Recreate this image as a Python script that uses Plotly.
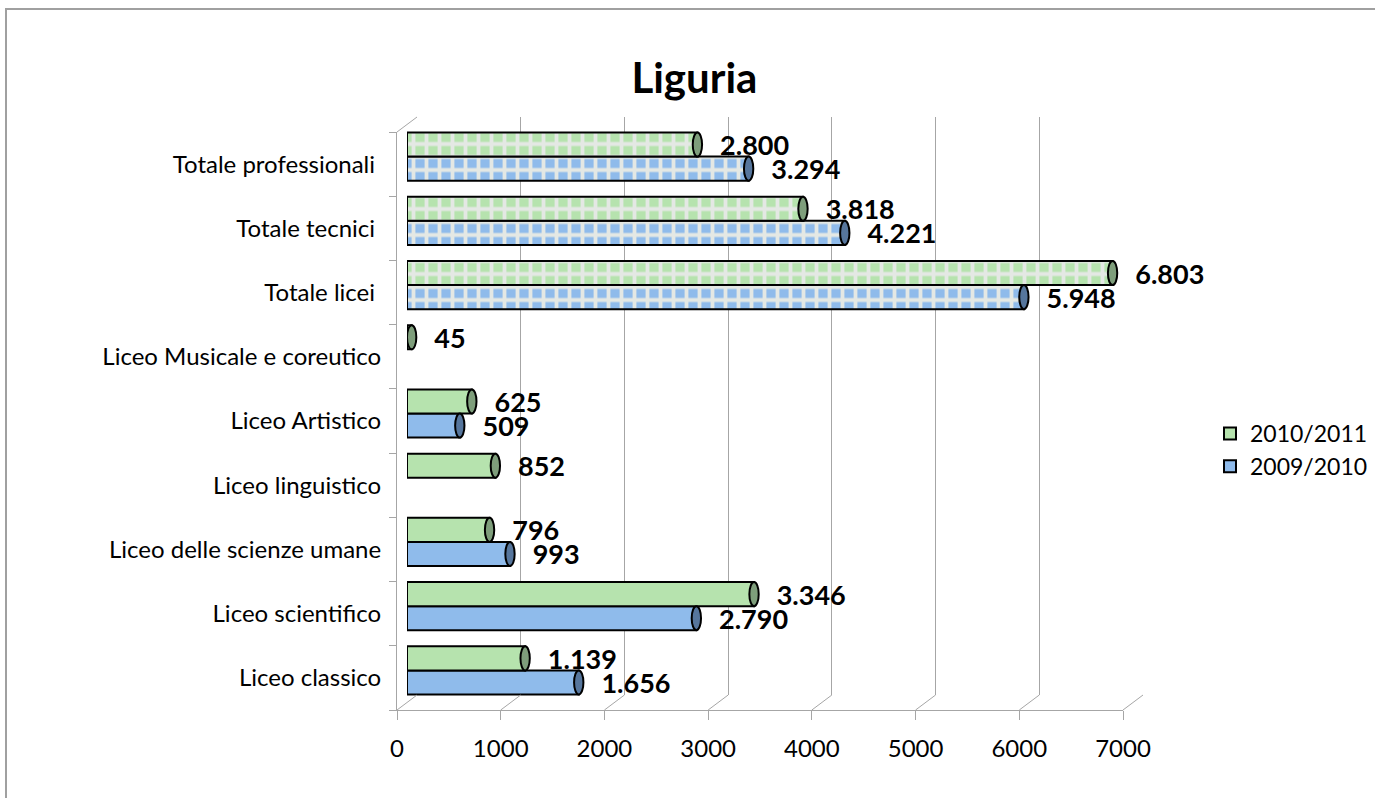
import plotly.graph_objects as go

categories = ["Liceo classico", "Liceo scientifico", "Liceo delle scienze umane",
              "Liceo linguistico", "Liceo Artistico", "Liceo Musicale e coreutico",
              "Totale licei ", "Totale tecnici ", "Totale professionali "]
s2010 = [1139, 3346, 796, 852, 625, 45, 6803, 3818, 2800]
s2009 = [1656, 2790, 993, None, 509, None, 5948, 4221, 3294]
is_total = [False, False, False, False, False, False, True, True, True]
x_ticks = [0, 1000, 2000, 3000, 4000, 5000, 6000, 7000]

FONT = "Lato"
W, H = 747, 593
L_M, T_M, B_M = 397, 117, 88
R_M = 1375 - L_M - W
DX, DY = 20, 15
FRONT_W = 726
FRONT_H = 578

def fmt(v):
    if v is None:
        return ""
    return "\u00a0\u00a0\u00a0" + f"{v:,}".replace(",", ".")

xdom_f = [0, FRONT_W / W]
ydom_f = [0, FRONT_H / H]
xdom_b = [DX / W, (DX + FRONT_W) / W]
ydom_b = [DY / H, 1]
xdom_m = [DX / 2 / W, (DX / 2 + FRONT_W) / W]
ydom_m = [DY / 2 / H, (DY / 2 + FRONT_H) / H]

green = "#b6e3ae"
blue = "#8fbbeb"
green_cap = "#7e9e7b"
blue_cap = "#56769d"

def pattern(base):
    return dict(shape=["+" if t else "" for t in is_total],
                fillmode="replace", size=13, solidity=0.5,
                fgcolor="#e4e8e4", bgcolor=base)

fig = go.Figure()
# dummy traces to register front and back subplots
fig.add_trace(go.Scatter(x=s2010, y=categories, mode="markers", marker=dict(opacity=0),
                         showlegend=False, hoverinfo="skip", xaxis="x", yaxis="y"))
fig.add_trace(go.Scatter(x=s2010, y=categories, mode="markers", marker=dict(opacity=0),
                         showlegend=False, hoverinfo="skip", xaxis="x2", yaxis="y2"))

label_font = dict(family=FONT, size=27, color="black", weight="bold")
fig.add_trace(go.Bar(name="2009/2010", y=categories, x=s2009, orientation="h",
                     marker=dict(color=blue, line=dict(color="black", width=2),
                                 pattern=pattern(blue)),
                     text=[fmt(v) for v in s2009], textposition="outside",
                     textfont=label_font, constraintext="none", cliponaxis=False,
                     xaxis="x3", yaxis="y3", legendgroup="a", legendrank=2))
fig.add_trace(go.Bar(name="2010/2011", y=categories, x=s2010, orientation="h",
                     marker=dict(color=green, line=dict(color="black", width=2),
                                 pattern=pattern(green)),
                     text=[fmt(v) for v in s2010], textposition="outside",
                     textfont=label_font, constraintext="none", cliponaxis=False,
                     xaxis="x3", yaxis="y3", legendgroup="b", legendrank=1))

shapes = []
grid_col = "#a6a6a6"
# floor slanted lines
for v in x_ticks:
    xf = xdom_f[0] + v / 7000 * (xdom_f[1] - xdom_f[0])
    xb = xdom_b[0] + v / 7000 * (xdom_b[1] - xdom_b[0])
    shapes.append(dict(type="line", xref="paper", yref="paper", x0=xf, y0=0, x1=xb, y1=ydom_b[0],
                       line=dict(color=grid_col, width=1)))
# top-left slanted line
shapes.append(dict(type="line", xref="paper", yref="paper", x0=xdom_f[0], y0=ydom_f[1],
                   x1=xdom_b[0], y1=1, line=dict(color=grid_col, width=1)))
# cylinder end caps
half = 45
for i, v in enumerate(s2009):
    if v is not None:
        shapes.append(dict(type="circle", xref="x3", yref="y3", x0=v - half, x1=v + half,
                           y0=i - 0.375, y1=i, fillcolor=blue_cap,
                           line=dict(color="black", width=2), layer="above"))
for i, v in enumerate(s2010):
    if v is not None:
        shapes.append(dict(type="circle", xref="x3", yref="y3", x0=v - half, x1=v + half,
                           y0=i, y1=i + 0.375, fillcolor=green_cap,
                           line=dict(color="black", width=2), layer="above"))
# outer chart border
shapes.append(dict(type="rect", xref="paper", yref="paper",
                   x0=(6 - L_M) / W, x1=(1420 - L_M) / W,
                   y0=(710 - 840) / H, y1=(710 - 9) / H,
                   line=dict(color="#a0a0a0", width=2), fillcolor="rgba(0,0,0,0)", layer="below"))

fig.update_layout(
    width=1375, height=798,
    margin=dict(l=L_M, r=R_M, t=T_M, b=B_M, autoexpand=False),
    paper_bgcolor="white", plot_bgcolor="rgba(0,0,0,0)",
    font=dict(family=FONT, color="black"),
    title=dict(text="<b>Liguria</b>", x=0.505, xanchor="center", y=1 - 78 / 798, yanchor="middle",
               font=dict(family=FONT, size=42, color="black")),
    barmode="group", bargap=0.25, bargroupgap=0,
    showlegend=True,
    legend=dict(x=(1210 - L_M) / W, xanchor="left", y=(710 - 412) / H, yanchor="top",
                traceorder="normal", tracegroupgap=6,
                font=dict(family=FONT, size=23, color="black"), bgcolor="rgba(0,0,0,0)"),
    xaxis=dict(domain=xdom_f, anchor="y", range=[0, 7000], tickvals=x_ticks,
               showgrid=False, zeroline=False, showline=True, linecolor=grid_col, linewidth=1,
               ticks="outside", ticklen=9, tickcolor=grid_col, ticklabelstandoff=8,
               tickfont=dict(family=FONT, size=24, color="black"), automargin=False),
    yaxis=dict(domain=ydom_f, anchor="x", type="category", categoryorder="array",
               categoryarray=categories, range=[-0.5, 8.5], showgrid=False, zeroline=False,
               showline=True, linecolor=grid_col, linewidth=1, ticks="outside", ticklen=7,
               tickcolor=grid_col, tickson="boundaries", ticklabelstandoff=10,
               tickfont=dict(family=FONT, size=24, color="black"), automargin=False),
    xaxis2=dict(domain=xdom_b, anchor="y2", range=[0, 7000], tickvals=x_ticks,
                showgrid=True, gridcolor=grid_col, gridwidth=1, zeroline=False,
                showticklabels=False, showline=False, ticks="", automargin=False),
    yaxis2=dict(domain=ydom_b, anchor="x2", type="category", categoryorder="array",
                categoryarray=categories, range=[-0.5, 8.5], showgrid=False, zeroline=False,
                showticklabels=False, showline=False, ticks="", automargin=False),
    xaxis3=dict(domain=xdom_m, anchor="y3", range=[0, 7000], showgrid=False, zeroline=False,
                showticklabels=False, showline=False, ticks="", automargin=False),
    yaxis3=dict(domain=ydom_m, anchor="x3", type="category", categoryorder="array",
                categoryarray=categories, range=[-0.5, 8.5], showgrid=False, zeroline=False,
                showticklabels=False, showline=False, ticks="", automargin=False),
    shapes=shapes,
)

fig.write_html("out.html", config={"displayModeBar": False},
               post_script="document.body.style.margin='0';document.body.style.overflow='hidden';")
